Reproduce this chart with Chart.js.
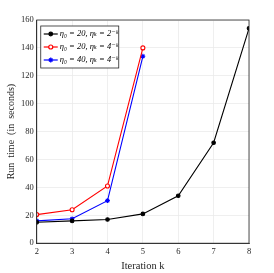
<!DOCTYPE html>
<html>
<head>
<meta charset="utf-8">
<script src="https://cdn.jsdelivr.net/npm/chart.js@4.4.0/dist/chart.umd.min.js"></script>
<style>
    html, body { margin: 0; padding: 0; background: #fff; }
    #wrap { width: 274px; height: 273px; }
</style>
</head>
<body>
<div id="wrap"><canvas id="runtime-chart"></canvas></div>
<script>
const iterations = [2, 3, 4, 5, 6, 7, 8];
const runTimeA = [15, 16, 17, 21, 34, 72, 154];
const runTimeB = [20.5, 24, 41, 140, null, null, null];
const runTimeC = [16, 17.5, 30.5, 134, null, null, null];
const yTicks = [0, 20, 40, 60, 80, 100, 120, 140, 160];

const serif = "'Liberation Serif', 'DejaVu Serif', serif";

// legend drawn inside the plot, top-left, like the original
const insideLegend = {
    id: 'insideLegend',
    afterDraw(chart) {
        const ctx = chart.ctx;
        const area = chart.chartArea;
        const x0 = area.left + 4, y0 = area.top + 6;
        const w = 78, rowH = 13;
        ctx.save();
        ctx.fillStyle = '#fff';
        ctx.fillRect(x0, y0, w, rowH * 3 + 3);
        ctx.strokeStyle = '#262626';
        ctx.lineWidth = 0.8;
        ctx.strokeRect(x0, y0, w, rowH * 3 + 3);
        chart.data.datasets.forEach((ds, i) => {
            const cy = y0 + 8 + i * rowH;
            ctx.strokeStyle = ds.borderColor;
            ctx.fillStyle = ds.pointBackgroundColor;
            ctx.lineWidth = 1.2;
            ctx.beginPath();
            ctx.moveTo(x0 + 3, cy);
            ctx.lineTo(x0 + 17, cy);
            ctx.stroke();
            Chart.helpers.drawPoint(ctx, {
                pointStyle: ds.pointStyle,
                radius: ds.pointRadius,
                borderWidth: 1.2
            }, x0 + 10, cy);
            ctx.fillStyle = '#000';
            ctx.font = "italic 8.5px " + serif;
            ctx.textBaseline = 'middle';
            ctx.fillText(ds.label, x0 + 19, cy);
        });
        ctx.restore();
    }
};

const frame = {
    id: 'frame',
    afterDraw(chart) {
        const a = chart.chartArea;
        const ctx = chart.ctx;
        ctx.save();
        ctx.strokeStyle = '#262626';
        ctx.lineWidth = 0.8;
        ctx.strokeRect(a.left, a.top, a.right - a.left, a.bottom - a.top);
        ctx.restore();
    }
};

const data = {
    labels: iterations,
    datasets: [{
            label: 'η₀ = 20, ηₖ = 2⁻ᵏ',
            data: runTimeA,
            borderColor: '#000',
            backgroundColor: '#000',
            pointBackgroundColor: '#000',
            pointStyle: 'circle',
            pointRadius: 1.8,
            borderWidth: 1.1
        }, {
            label: 'η₀ = 20, ηₖ = 4⁻ᵏ',
            data: runTimeB,
            borderColor: '#ff0000',
            backgroundColor: '#ff0000',
            pointBackgroundColor: '#fff',
            pointStyle: 'circle',
            pointRadius: 2,
            borderWidth: 1.1
        }, {
            label: 'η₀ = 40, ηₖ = 4⁻ᵏ',
            data: runTimeC,
            borderColor: '#0000ff',
            backgroundColor: '#0000ff',
            pointBackgroundColor: '#0000ff',
            pointStyle: 'star',
            pointRadius: 2.4,
            borderWidth: 1.1
        }]
};

new Chart(document.getElementById('runtime-chart'), {
    type: 'line',
    data: data,
    plugins: [frame, insideLegend],
    options: {
        responsive: true,
        maintainAspectRatio: false,
        animation: false,
        layout: {padding: {top: 20, right: 25, left: 5, bottom: 0}},
        plugins: {
            legend: {display: false},
            tooltip: {enabled: false}
        },
        scales: {
            x: {
                type: 'linear',
                min: 2,
                max: 8,
                afterBuildTicks: (axis) => {
                    axis.ticks = iterations.map(v => ({value: v}));
                },
                grid: {color: '#ebebeb', lineWidth: 0.8, drawTicks: false},
                border: {color: '#262626', width: 0.8},
                ticks: {color: '#262626', font: {family: serif, size: 8.5}, padding: 3},
                title: {
                    display: true,
                    text: 'Iteration k',
                    color: '#262626',
                    font: {family: serif, size: 10.5},
                    padding: {top: 1, bottom: 0}
                }
            },
            y: {
                min: 0,
                max: 160,
                afterBuildTicks: (axis) => {
                    axis.ticks = yTicks.map(v => ({value: v}));
                },
                grid: {color: '#ebebeb', lineWidth: 0.8, drawTicks: false},
                border: {color: '#262626', width: 0.8},
                ticks: {color: '#262626', font: {family: serif, size: 8.5}, padding: 3},
                title: {
                    display: true,
                    text: 'Run  time  (in  seconds)',
                    color: '#262626',
                    font: {family: serif, size: 10},
                    padding: {top: 0, bottom: 1}
                }
            }
        }
    }
});
</script>
</body>
</html>
